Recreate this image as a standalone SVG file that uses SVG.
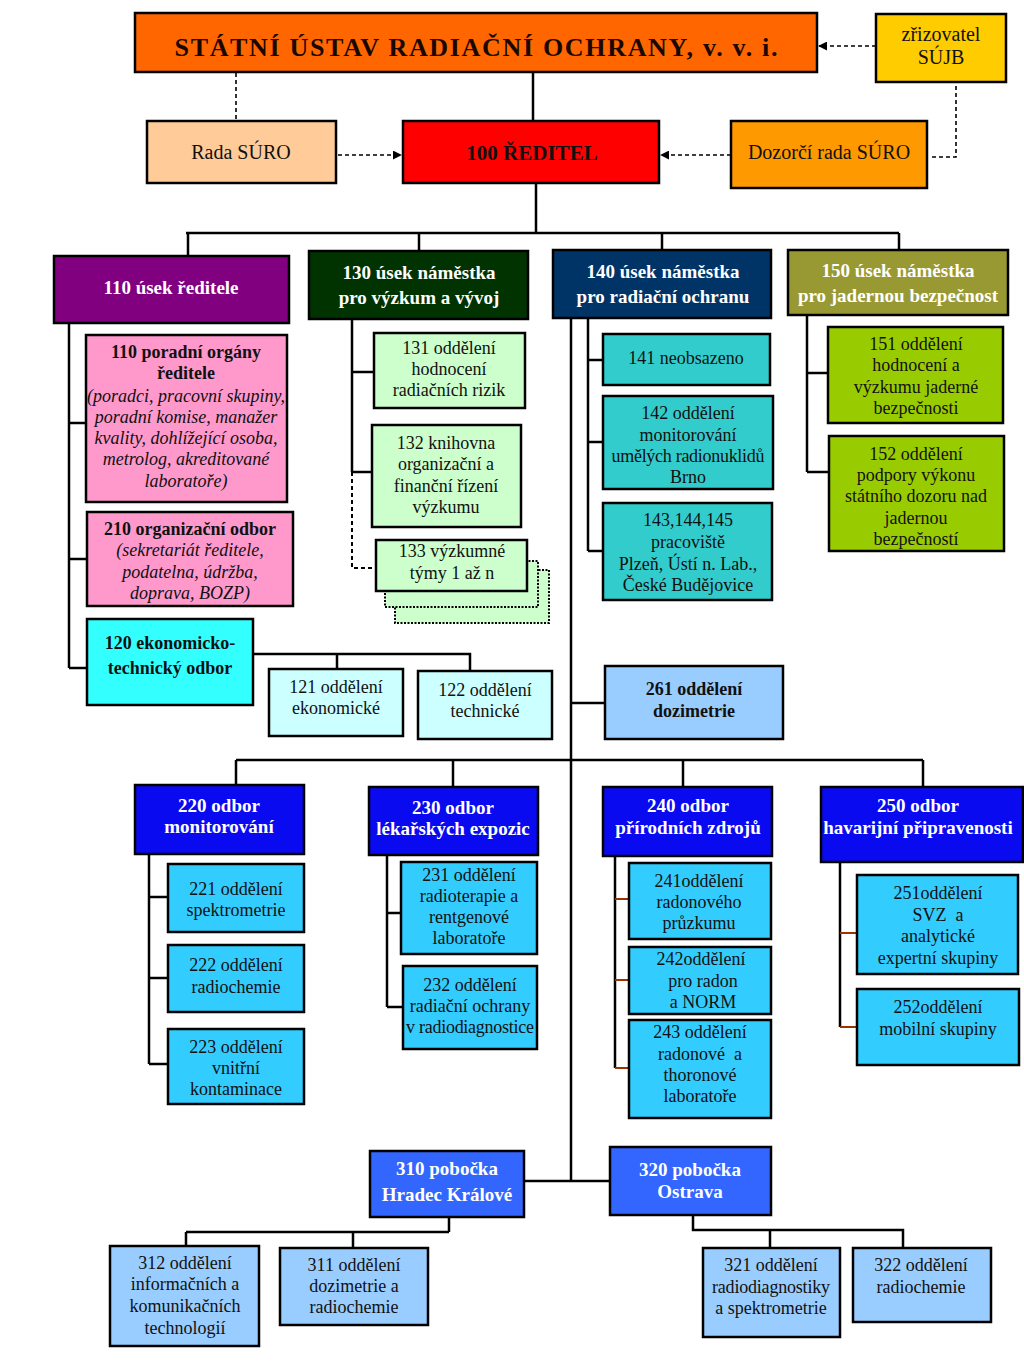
<svg xmlns="http://www.w3.org/2000/svg" width="1024" height="1372" viewBox="0 0 1024 1372">
<defs>
<marker id="ah" viewBox="0 0 10 10" refX="9" refY="5" markerWidth="9" markerHeight="9" markerUnits="userSpaceOnUse" orient="auto">
<path d="M0,0 L10,5 L0,10 z" fill="#000"/>
</marker>
<style>
.bx{stroke:#000;stroke-width:2.5}
.t{font-family:"Liberation Serif","Times New Roman",serif;font-size:18px;text-anchor:middle;fill:#111}
.l{font-size:20px}
.h{font-size:19px;font-weight:bold;fill:#fff}
.b{font-weight:bold}
.i{font-style:italic}
.ln{stroke:#000;stroke-width:2.5;fill:none}
.ds{stroke:#000;stroke-width:1.6;fill:none;stroke-dasharray:4 3}
.dt{stroke:#000;stroke-width:2;stroke-dasharray:2 1.5;fill:#CCFFCC}
.rd{stroke:#993300;stroke-width:2;fill:none}
</style>
</defs>
<rect width="1024" height="1372" fill="#fff"/>

<g id="connectors">
<line class="ds" x1="876" y1="46" x2="819" y2="46" marker-end="url(#ah)"/>
<path class="ds" d="M956 86 V157 H929"/>
<line class="ds" x1="236" y1="73" x2="236" y2="121"/>
<line class="ds" x1="338" y1="155" x2="401" y2="155" marker-end="url(#ah)"/>
<line class="ds" x1="731" y1="155" x2="661" y2="155" marker-end="url(#ah)"/>
<line class="ln" x1="533" y1="72" x2="533" y2="121"/>
<path class="ln" d="M536 183 V233 M186 233 H899 M188 233 V256 M419 233 V251 M662 233 V250 M899 233 V250"/>
<path class="ln" d="M69 323 V668 M69 423 H86 M69 559 H87 M69 668 H87"/>
<path class="ln" d="M253 654 H470 V671 M337 654 V669"/>
<path class="ln" d="M352 319 V472 M352 372 H374 M352 472 H372"/>
<path class="ds" d="M352 472 V568 H376" style="stroke-width:2"/>
<path class="ln" d="M571 318 V1181 M588 318 V551 M588 360 H603 M588 442 H603 M588 551 H603 M571 703 H605"/>
<path class="ln" d="M807 315 V472 M807 373 H828 M807 472 H829"/>
<path class="ln" d="M236 760 H923 M236 760 V785 M453 760 V787 M683 760 V787 M923 760 V787"/>
<path class="ln" d="M149 854 V1064 M149 897 H168 M149 978 H168 M149 1064 H168"/>
<path class="ln" d="M387 855 V1007 M387 913 H401 M387 1007 H403"/>
<path class="ln" d="M615 856 V1068"/>
<path class="rd" d="M615 899 H629 M615 980 H629 M615 1068 H629"/>
<path class="ln" d="M840 862 V1027"/>
<path class="rd" d="M840 933 H857 M840 1027 H857"/>
<path class="ln" d="M524 1181 H610"/>
<path class="ln" d="M449 1217 V1232 M186 1232 H449 M186 1232 V1246 M353 1232 V1248"/>
<path class="ln" d="M693 1215 V1230 H903 V1248 M770 1230 V1248"/>
</g>

<g id="title">
<rect class="bx" x="135" y="13" width="682" height="59" fill="#FF6600"/>
<text class="t b" x="476" y="56" style="font-size:26px;fill:#1a0800" textLength="603">STÁTNÍ ÚSTAV RADIAČNÍ OCHRANY, v. v. i.</text>
</g>
<g id="zrizovatel">
<rect class="bx" x="876" y="14" width="130" height="68" fill="#FFCC00"/>
<text class="t l" x="941" y="41">zřizovatel</text>
<text class="t l" x="941" y="64">SÚJB</text>
</g>
<g id="rada">
<rect class="bx" x="147" y="121" width="189" height="62" fill="#FFCC99"/>
<text class="t l" x="241" y="159">Rada SÚRO</text>
</g>
<g id="reditel">
<rect class="bx" x="403" y="121" width="256" height="62" fill="#FF0000"/>
<text class="t b" x="532" y="160" style="font-size:21px">100 ŘEDITEL</text>
</g>
<g id="dozorci">
<rect class="bx" x="731" y="121" width="196" height="67" fill="#FF9900"/>
<text class="t l" x="829" y="159">Dozorčí rada SÚRO</text>
</g>

<g id="n110">
<rect class="bx" x="54" y="256" width="235" height="67" fill="#800080"/>
<text class="t h" x="171" y="294">110 úsek ředitele</text>
</g>
<g id="n130">
<rect class="bx" x="309" y="251" width="219" height="68" fill="#003300"/>
<text class="t h" x="419" y="279">130 úsek náměstka</text>
<text class="t h" x="419" y="304">pro výzkum a vývoj</text>
</g>
<g id="n140">
<rect class="bx" x="553" y="250" width="218" height="68" fill="#003366"/>
<text class="t h" x="663" y="278">140 úsek náměstka</text>
<text class="t h" x="663" y="303">pro radiační ochranu</text>
</g>
<g id="n150">
<rect class="bx" x="788" y="250" width="220" height="65" fill="#999933"/>
<text class="t h" x="898" y="277">150 úsek náměstka</text>
<text class="t h" x="898" y="302">pro jadernou bezpečnost</text>
</g>

<g id="n110p">
<rect class="bx" x="86" y="335" width="201" height="167" fill="#FF99CC"/>
<text class="t b" x="186" y="358">110 poradní orgány</text>
<text class="t b" x="186" y="379">ředitele</text>
<text class="t i" x="186" y="402">(poradci, pracovní skupiny,</text>
<text class="t i" x="186" y="423">poradní komise, manažer</text>
<text class="t i" x="186" y="444">kvality, dohlížející osoba,</text>
<text class="t i" x="186" y="465">metrolog, akreditované</text>
<text class="t i" x="186" y="487">laboratoře)</text>
</g>
<g id="n210">
<rect class="bx" x="87" y="512" width="206" height="94" fill="#FF99CC"/>
<text class="t b" x="190" y="535">210 organizační odbor</text>
<text class="t i" x="190" y="556">(sekretariát ředitele,</text>
<text class="t i" x="190" y="578">podatelna, údržba,</text>
<text class="t i" x="190" y="599">doprava, BOZP)</text>
</g>
<g id="n120">
<rect class="bx" x="87" y="619" width="166" height="86" fill="#33FFFF"/>
<text class="t b" x="170" y="649">120 ekonomicko-</text>
<text class="t b" x="170" y="674">technický odbor</text>
</g>
<g id="n121">
<rect class="bx" x="269" y="669" width="134" height="67" fill="#CCFFFF"/>
<text class="t" x="336" y="693">121 oddělení</text>
<text class="t" x="336" y="714">ekonomické</text>
</g>
<g id="n122">
<rect class="bx" x="418" y="671" width="134" height="68" fill="#CCFFFF"/>
<text class="t" x="485" y="696">122 oddělení</text>
<text class="t" x="485" y="717">technické</text>
</g>

<g id="n131">
<rect class="bx" x="374" y="333" width="151" height="75" fill="#CCFFCC"/>
<text class="t" x="449" y="354">131 oddělení</text>
<text class="t" x="449" y="375">hodnocení</text>
<text class="t" x="449" y="396">radiačních rizik</text>
</g>
<g id="n132">
<rect class="bx" x="372" y="425" width="149" height="102" fill="#CCFFCC"/>
<text class="t" x="446" y="449">132 knihovna</text>
<text class="t" x="446" y="470">organizační a</text>
<text class="t" x="446" y="492">finanční řízení</text>
<text class="t" x="446" y="513">výzkumu</text>
</g>
<g id="n133">
<rect class="dt" x="395" y="570" width="154" height="53"/>
<rect class="dt" x="385" y="561" width="153" height="46"/>
<rect class="bx" x="376" y="540" width="151" height="51" fill="#CCFFCC"/>
<text class="t" x="452" y="557">133 výzkumné</text>
<text class="t" x="452" y="579">týmy 1 až n</text>
</g>

<g id="n141">
<rect class="bx" x="603" y="334" width="167" height="51" fill="#33CCCC"/>
<text class="t" x="686" y="364">141 neobsazeno</text>
</g>
<g id="n142">
<rect class="bx" x="603" y="396" width="170" height="93" fill="#33CCCC"/>
<text class="t" x="688" y="419">142 oddělení</text>
<text class="t" x="688" y="441">monitorování</text>
<text class="t" x="688" y="462" textLength="153">umělých radionuklidů</text>
<text class="t" x="688" y="483">Brno</text>
</g>
<g id="n143">
<rect class="bx" x="603" y="503" width="169" height="97" fill="#33CCCC"/>
<text class="t" x="688" y="526">143,144,145</text>
<text class="t" x="688" y="548">pracoviště</text>
<text class="t" x="688" y="570">Plzeň, Ústí n. Lab.,</text>
<text class="t" x="688" y="591">České Budějovice</text>
</g>

<g id="n151">
<rect class="bx" x="828" y="327" width="175" height="96" fill="#99CC00"/>
<text class="t" x="916" y="350">151 oddělení</text>
<text class="t" x="916" y="371">hodnocení a</text>
<text class="t" x="916" y="393">výzkumu jaderné</text>
<text class="t" x="916" y="414">bezpečnosti</text>
</g>
<g id="n152">
<rect class="bx" x="829" y="436" width="175" height="115" fill="#99CC00"/>
<text class="t" x="916" y="460">152 oddělení</text>
<text class="t" x="916" y="481">podpory výkonu</text>
<text class="t" x="916" y="502">státního dozoru nad</text>
<text class="t" x="916" y="524">jadernou</text>
<text class="t" x="916" y="545">bezpečností</text>
</g>

<g id="n261">
<rect class="bx" x="605" y="666" width="178" height="73" fill="#99CCFF"/>
<text class="t b" x="694" y="695">261 oddělení</text>
<text class="t b" x="694" y="717">dozimetrie</text>
</g>

<g id="n220">
<rect class="bx" x="135" y="785" width="169" height="69" fill="#0A0AF0"/>
<text class="t h" x="219" y="812">220 odbor</text>
<text class="t h" x="219" y="833">monitorování</text>
</g>
<g id="n230">
<rect class="bx" x="369" y="787" width="169" height="68" fill="#0A0AF0"/>
<text class="t h" x="453" y="814">230 odbor</text>
<text class="t h" x="453" y="835">lékařských expozic</text>
</g>
<g id="n240">
<rect class="bx" x="603" y="787" width="169" height="69" fill="#0A0AF0"/>
<text class="t h" x="688" y="812">240 odbor</text>
<text class="t h" x="688" y="834">přírodních zdrojů</text>
</g>
<g id="n250">
<rect class="bx" x="821" y="787" width="202" height="75" fill="#0A0AF0"/>
<text class="t h" x="918" y="812">250 odbor</text>
<text class="t h" x="918" y="834">havarijní připravenosti</text>
</g>

<g id="n221">
<rect class="bx" x="168" y="864" width="136" height="68" fill="#33CCFF"/>
<text class="t" x="236" y="895">221 oddělení</text>
<text class="t" x="236" y="916">spektrometrie</text>
</g>
<g id="n222">
<rect class="bx" x="168" y="945" width="136" height="67" fill="#33CCFF"/>
<text class="t" x="236" y="971">222 oddělení</text>
<text class="t" x="236" y="993">radiochemie</text>
</g>
<g id="n223">
<rect class="bx" x="168" y="1029" width="136" height="75" fill="#33CCFF"/>
<text class="t" x="236" y="1053">223 oddělení</text>
<text class="t" x="236" y="1074">vnitřní</text>
<text class="t" x="236" y="1095">kontaminace</text>
</g>

<g id="n231">
<rect class="bx" x="401" y="862" width="136" height="92" fill="#33CCFF"/>
<text class="t" x="469" y="881">231 oddělení</text>
<text class="t" x="469" y="902">radioterapie a</text>
<text class="t" x="469" y="923">rentgenové</text>
<text class="t" x="469" y="944">laboratoře</text>
</g>
<g id="n232">
<rect class="bx" x="403" y="966" width="134" height="83" fill="#33CCFF"/>
<text class="t" x="470" y="991">232 oddělení</text>
<text class="t" x="470" y="1012">radiační ochrany</text>
<text class="t" x="470" y="1033" textLength="128">v radiodiagnostice</text>
</g>

<g id="n241">
<rect class="bx" x="629" y="863" width="142" height="76" fill="#33CCFF"/>
<text class="t" x="699" y="887">241oddělení</text>
<text class="t" x="699" y="908">radonového</text>
<text class="t" x="699" y="929">průzkumu</text>
</g>
<g id="n242">
<rect class="bx" x="629" y="947" width="142" height="67" fill="#33CCFF"/>
<text class="t" x="701" y="965">242oddělení</text>
<text class="t" x="703" y="987">pro radon</text>
<text class="t" x="703" y="1008">a NORM</text>
</g>
<g id="n243">
<rect class="bx" x="629" y="1020" width="142" height="98" fill="#33CCFF"/>
<text class="t" x="700" y="1038">243 oddělení</text>
<text class="t" x="700" y="1060" xml:space="preserve">radonové  a</text>
<text class="t" x="700" y="1081">thoronové</text>
<text class="t" x="700" y="1102">laboratoře</text>
</g>

<g id="n251">
<rect class="bx" x="857" y="875" width="161" height="99" fill="#33CCFF"/>
<text class="t" x="938" y="899">251oddělení</text>
<text class="t" x="938" y="921" xml:space="preserve">SVZ  a</text>
<text class="t" x="938" y="942">analytické</text>
<text class="t" x="938" y="964">expertní skupiny</text>
</g>
<g id="n252">
<rect class="bx" x="857" y="989" width="162" height="76" fill="#33CCFF"/>
<text class="t" x="938" y="1013">252oddělení</text>
<text class="t" x="938" y="1035">mobilní skupiny</text>
</g>

<g id="n310">
<rect class="bx" x="370" y="1151" width="154" height="66" fill="#3366FF"/>
<text class="t h" x="447" y="1175">310 pobočka</text>
<text class="t h" x="447" y="1201">Hradec Králové</text>
</g>
<g id="n320">
<rect class="bx" x="610" y="1147" width="161" height="68" fill="#3366FF"/>
<text class="t h" x="690" y="1176">320 pobočka</text>
<text class="t h" x="690" y="1198">Ostrava</text>
</g>
<g id="n312">
<rect class="bx" x="110" y="1246" width="149" height="100" fill="#99CCFF"/>
<text class="t" x="185" y="1269">312 oddělení</text>
<text class="t" x="185" y="1290">informačních a</text>
<text class="t" x="185" y="1312">komunikačních</text>
<text class="t" x="185" y="1334">technologií</text>
</g>
<g id="n311">
<rect class="bx" x="280" y="1248" width="148" height="77" fill="#99CCFF"/>
<text class="t" x="354" y="1271">311 oddělení</text>
<text class="t" x="354" y="1292">dozimetrie a</text>
<text class="t" x="354" y="1313">radiochemie</text>
</g>
<g id="n321">
<rect class="bx" x="703" y="1248" width="137" height="89" fill="#99CCFF"/>
<text class="t" x="771" y="1271">321 oddělení</text>
<text class="t" x="771" y="1293" textLength="118">radiodiagnostiky</text>
<text class="t" x="771" y="1314">a spektrometrie</text>
</g>
<g id="n322">
<rect class="bx" x="853" y="1248" width="138" height="74" fill="#99CCFF"/>
<text class="t" x="921" y="1271">322 oddělení</text>
<text class="t" x="921" y="1293">radiochemie</text>
</g>
</svg>
